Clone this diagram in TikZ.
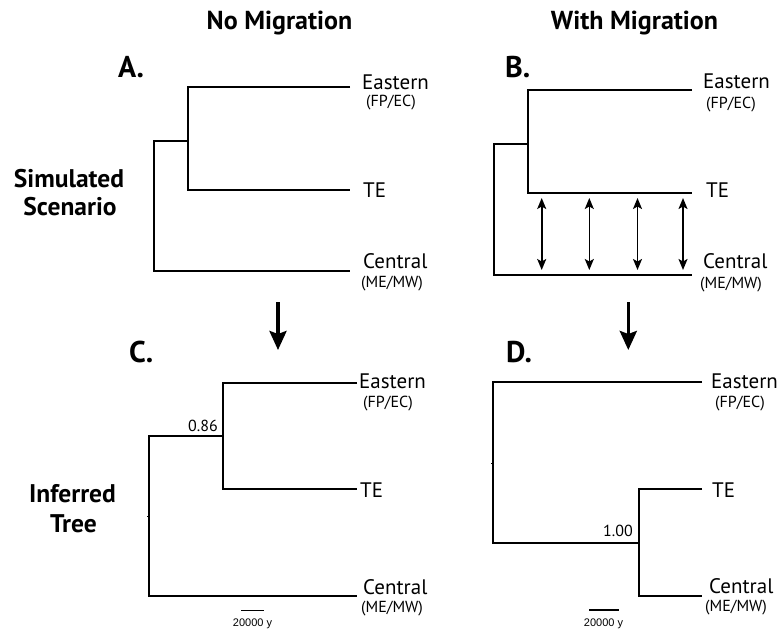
\documentclass[tikz,border=0pt]{standalone}
\usepackage{fontspec}
\setmainfont{PT Sans}
\newfontfamily\barfont{Liberation Sans}
\usetikzlibrary{arrows.meta}
\tikzset{
  tree/.style={line width=1.5pt, line join=miter},
  lbl/.style={anchor=base west, inner sep=0pt, font=\fontsize{21}{24}\selectfont},
  subl/.style={anchor=base west, inner sep=0pt, font=\fontsize{16}{19}\selectfont},
  hdr/.style={anchor=base, inner sep=0pt, font=\fontsize{26}{30}\selectfont\bfseries},
  side/.style={anchor=base, inner sep=0pt, font=\fontsize{25.5}{30}\selectfont\bfseries},
  panel/.style={anchor=base west, inner sep=0pt, font=\fontsize{30}{34}\selectfont\bfseries},
  support/.style={anchor=base east, inner sep=0pt, font=\fontsize{16}{19}\selectfont},
  scaletxt/.style={anchor=base, inner sep=0pt, font=\barfont\fontsize{11}{13}\selectfont},
  mig/.style={{Stealth[length=11pt,width=9pt,inset=2.5pt]}-{Stealth[length=11pt,width=9pt,inset=2.5pt]}, line width=1.6pt, shorten <=5pt, shorten >=5pt},
  down/.style={-{Stealth[length=19pt,width=17pt,inset=3pt]}, line width=3.5pt},
  scalebar/.style={line width=1.5pt},
  tick/.style={line width=1pt}
}
\begin{document}
\begin{tikzpicture}[x=1pt,y=-1pt]
\path[use as bounding box] (0,0) rectangle (778,629);

% headings
\node[hdr] (hNo) at (279.5,29) {No Migration};
\node[hdr] (hWith) at (634.5,29) {With Migration};
\node[side] (sSim) at (69,187) {Simulated};
\node[side] (sScen) at (70,215) {Scenario};
\node[side] (sInf) at (72.5,502) {Inferred};
\node[side] (sTree) at (73.5,532) {Tree};

% panel letters
\node[panel] (pA) at (118,77) {A.};
\node[panel] (pB) at (505,77) {B.};
\node[panel] (pC) at (129,362) {C.};
\node[panel] (pD) at (506,362) {D.};

% ---------- Tree A ----------
\coordinate (Ae) at (350,87);
\coordinate (At) at (350,190);
\coordinate (Ac) at (350,271);
\coordinate (Ain) at (188,141);
\coordinate (Ar) at (154,141);
\draw[tree] (Ae) -| (Ain) |- (At);
\draw[tree] (Ain) -| (Ar) |- (Ac);
\node[lbl] (AeL) at (362,89) {Eastern};
\node[subl] (AeS) at (366,106) {(FP/EC)};
\node[lbl] (AtL) at (363,197) {TE};
\node[lbl] (AcL) at (363,268) {Central};
\node[subl] (AcS) at (361,287) {(ME/MW)};

% ---------- Tree B ----------
\coordinate (Be) at (692,90);
\coordinate (Bt) at (692,193);
\coordinate (Bc) at (692,275);
\coordinate (Bin) at (528,144);
\coordinate (Br) at (494,144);
\draw[tree] (Be) -| (Bin) |- (Bt);
\draw[tree] (Bin) -| (Br) |- (Bc);
\node[lbl] (BeL) at (703,88) {Eastern};
\node[subl] (BeS) at (706,108) {(FP/EC)};
\node[lbl] (BtL) at (706,197) {TE};
\node[lbl] (BcL) at (703,268) {Central};
\node[subl] (BcS) at (700,288) {(ME/MW)};
\foreach \i/\mx in {1/541.7,2/589.3,3/637.5,4/683}{
  \coordinate (m\i a) at (\mx,193);
  \coordinate (m\i b) at (\mx,275);
  \draw[mig] (m\i a) -- (m\i b);
}

% ---------- arrows down ----------
\coordinate (dA1) at (278,302);
\coordinate (dA2) at (278,350);
\draw[down] (dA1) -- (dA2);
\coordinate (dB1) at (628.3,302);
\coordinate (dB2) at (628.3,350);
\draw[down] (dB1) -- (dB2);

% ---------- Tree C ----------
\coordinate (Ce) at (357,383);
\coordinate (Ct) at (357,489);
\coordinate (Cc) at (357,596);
\coordinate (Cin) at (223,436);
\coordinate (Cr) at (149,436);
\draw[tree] (Ce) -| (Cin) |- (Ct);
\draw[tree] (Cin) -| (Cr) |- (Cc);
\coordinate (Ck1) at (147,516.5);
\coordinate (Ck2) at (149,516.5);
\draw[tick] (Ck1) -- (Ck2);
\node[support] (Cs) at (218,431) {0.86};
\node[lbl] (CeL) at (359,388) {Eastern};
\node[subl] (CeS) at (363,407) {(FP/EC)};
\node[lbl] (CtL) at (360,497) {TE};
\node[lbl] (CcL) at (363,594) {Central};
\node[subl] (CcS) at (361,612) {(ME/MW)};
\coordinate (Cb1) at (241,610.5);
\coordinate (Cb2) at (264,610.5);
\draw[scalebar] (Cb1) -- (Cb2);
\node[scaletxt] (CbT) at (252.5,626) {20000 y};

% ---------- Tree D ----------
\coordinate (De) at (702,382);
\coordinate (Dr) at (493,382);
\coordinate (Din) at (639,543);
\coordinate (Dt) at (702,489);
\coordinate (Dc) at (702,596);
\draw[tree] (De) -| (Dr) |- (Din);
\draw[tree] (Dt) -| (Din) |- (Dc);
\coordinate (Dk1) at (491,463);
\coordinate (Dk2) at (493,463);
\draw[tick] (Dk1) -- (Dk2);
\node[support] (Ds) at (633,536) {1.00};
\node[lbl] (DeL) at (711,388) {Eastern};
\node[subl] (DeS) at (715,407) {(FP/EC)};
\node[lbl] (DtL) at (712,497) {TE};
\node[lbl] (DcL) at (709,593) {Central};
\node[subl] (DcS) at (705,611) {(ME/MW)};
\coordinate (Db1) at (589,610);
\coordinate (Db2) at (618.5,610);
\draw[scalebar] (Db1) -- (Db2);
\node[scaletxt] (DbT) at (603.5,626) {20000 y};
\end{tikzpicture}
\end{document}
